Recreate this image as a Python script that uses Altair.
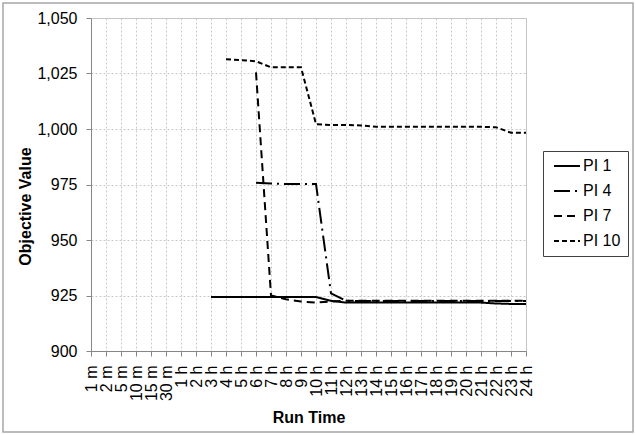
import altair as alt
import pandas as pd

categories = ["1 m", "2 m", "5 m", "10 m", "15 m", "30 m",
              "1 h", "2 h", "3 h", "4 h", "5 h", "6 h", "7 h", "8 h", "9 h", "10 h",
              "11 h", "12 h", "13 h", "14 h", "15 h", "16 h", "17 h", "18 h", "19 h",
              "20 h", "21 h", "22 h", "23 h", "24 h"]

pi1 = [None] * 8 + [924.3] * 8 + [922.6] + [921.8] * 10 + [921.4, 921.2, 921.2]
pi4 = [None] * 11 + [975.8, 975.5, 975.2, 975.2, 975.2, 926.0, 922.6] + [922.5] * 12
pi7 = [None] * 11 + [1025.5, 925.0, 923.3, 922.3, 921.8, 922.3] + [922.6] * 13
pi10 = [None] * 9 + [1031.4, 1031.0, 1030.5, 1027.8, 1027.8, 1027.8,
                     1002.2, 1001.8, 1001.8, 1001.6] + [1001.0] * 8 + [1000.8, 998.3, 998.3]

series_names = ["PI 1", "PI 4", "PI 7", "PI 10"]
series_values = [pi1, pi4, pi7, pi10]
dashes = [[1, 0], [16, 5, 2, 5], [8, 5], [5, 3]]
y_ticks = [900, 925, 950, 975, 1000, 1025, 1050]

rows = []
for name, vals in zip(series_names, series_values):
    for cat, v in zip(categories, vals):
        if v is not None:
            rows.append({"series": name, "time": cat, "value": v})
df = pd.DataFrame(rows)

FONT = "Liberation Sans"

lines = alt.Chart(df).mark_line(color="black", strokeWidth=2).encode(
    x=alt.X("time:N", sort=categories,
            scale=alt.Scale(type="point", domain=categories, padding=0),
            axis=alt.Axis(title="Run Time", labelAngle=270, labelPadding=9,
                          tickSize=5, titleX=217.5, titleY=66,
                          titleBaseline="middle", titleAlign="center",
                          grid=True)),
    y=alt.Y("value:Q",
            scale=alt.Scale(domain=[900, 1050], nice=False, zero=False),
            axis=alt.Axis(title="Objective Value", values=y_ticks, format=",.0f",
                          tickSize=5, labelPadding=9,
                          titleX=-66, titleY=188, titleAngle=270,
                          titleBaseline="middle", titleAlign="center",
                          grid=True)),
    strokeDash=alt.StrokeDash("series:N", sort=series_names,
                              scale=alt.Scale(domain=series_names, range=dashes),
                              legend=alt.Legend(title=None, orient="none",
                                                legendX=452, legendY=133,
                                                labelExpr="datum.label + '  '")),
    detail="series:N",
)

frame = alt.Chart(pd.DataFrame({"a": [0]})).mark_rect(
    fill=None, stroke="#a6a6a6", strokeWidth=1.5
).encode(
    x=alt.value(-88), x2=alt.value(542), y=alt.value(-15), y2=alt.value(414)
)

chart = alt.layer(frame, lines).properties(
    width=435, height=333,
    padding={"left": 91, "top": 18, "right": 110, "bottom": 84},
    autosize=alt.AutoSizeParams(type="none"),
    background="white",
).configure_view(
    stroke="#bfbfbf", strokeWidth=1
).configure_axis(
    labelFont=FONT, labelFontSize=16, labelColor="black",
    titleFont=FONT, titleFontSize=16, titleFontWeight="bold", titleColor="black",
    domainColor="#868686", domainWidth=1, tickColor="#868686",
    gridColor="#c8c8c8", gridDash=[2, 2], gridWidth=1,
).configure_legend(
    labelFont=FONT, labelFontSize=16, labelColor="black",
    symbolType="stroke", symbolSize=676, symbolStrokeWidth=2,
    symbolStrokeColor="black", symbolOffset=3, clipHeight=16,
    strokeColor="#404040", fillColor="white", padding=7,
    rowPadding=9, labelOffset=2,
)

chart.save("out.html", embed_options={"renderer": "svg", "actions": False})
